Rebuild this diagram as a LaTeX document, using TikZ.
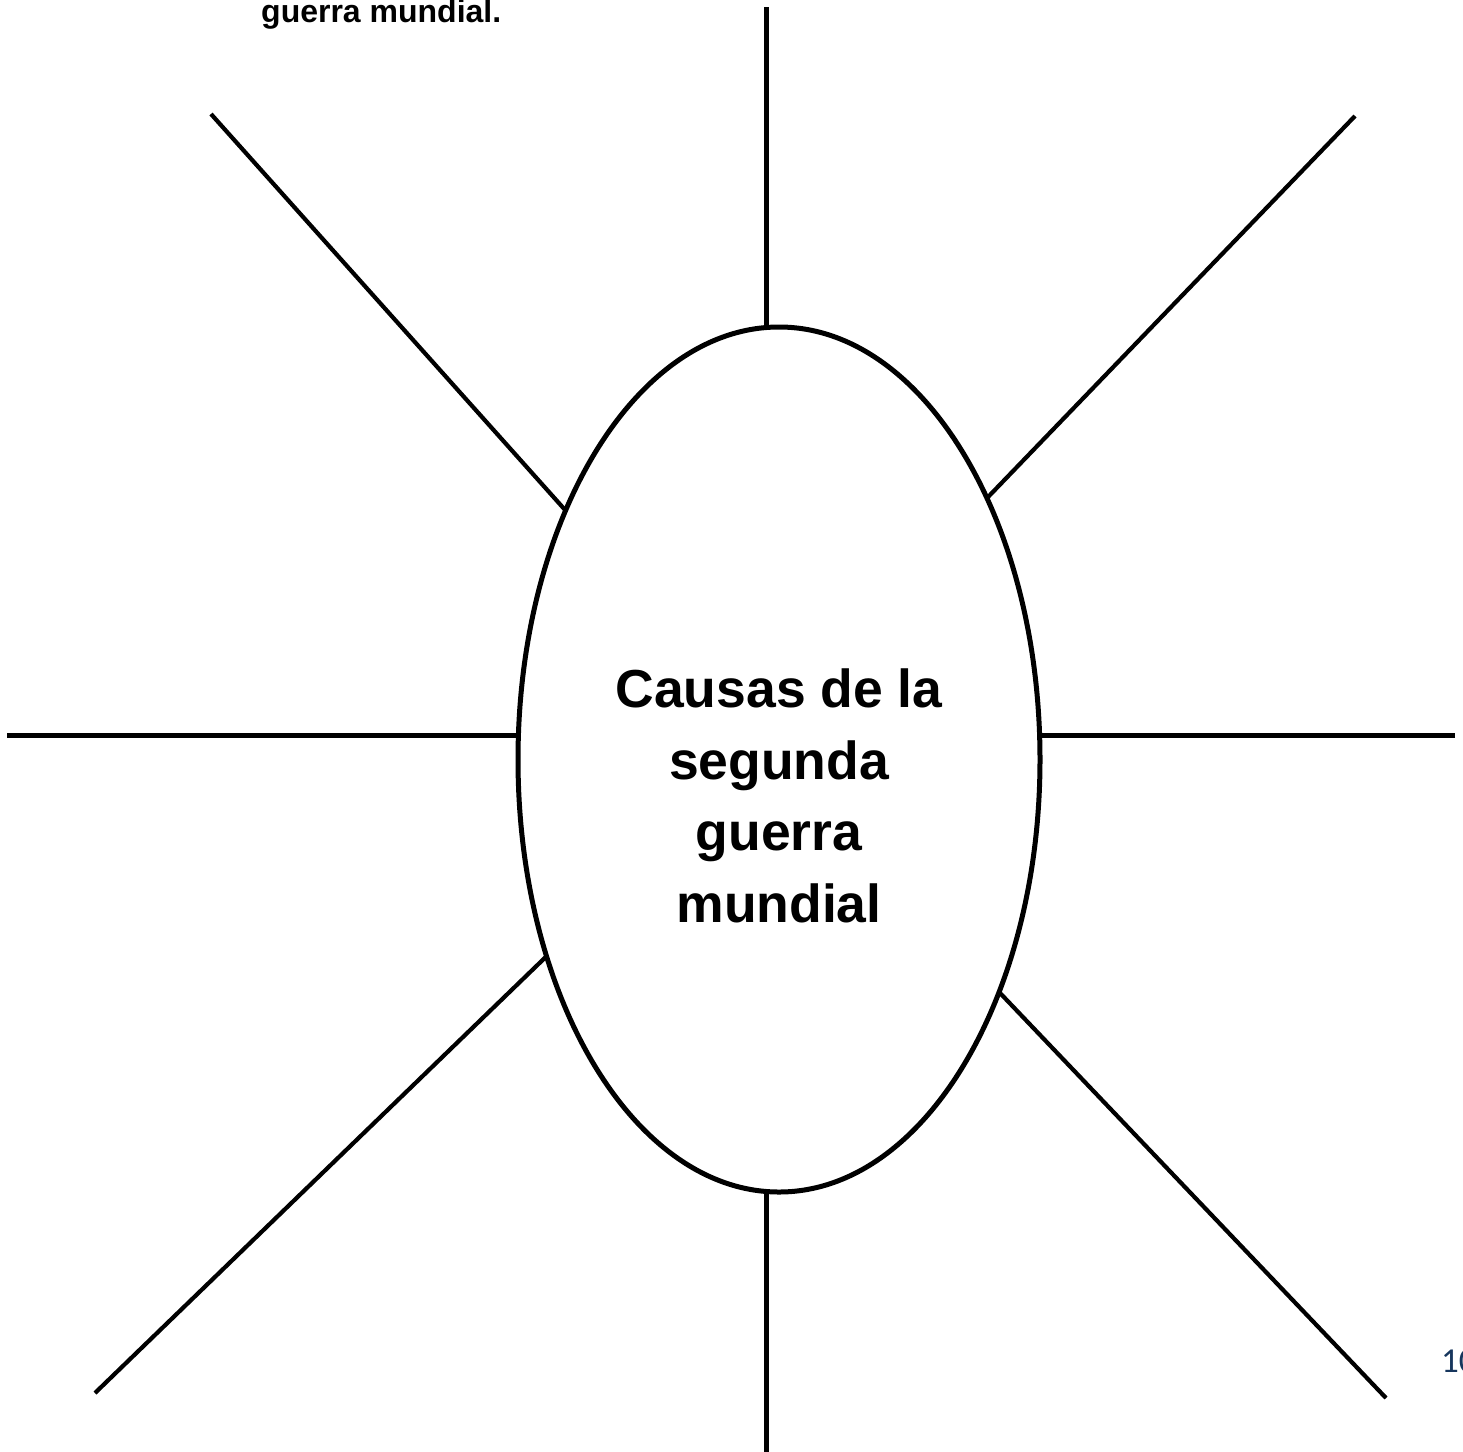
\documentclass[tikz,border=0pt]{standalone}
\usepackage{fontspec}
\setmainfont{Liberation Sans}
\newfontfamily\calibrifont{Carlito}
\usetikzlibrary{shapes.geometric}
\definecolor{pagenum}{RGB}{23,54,93}
\begin{document}
\begin{tikzpicture}[x=1pt,y=-1pt,
  ray/.style={line width=4.2pt},
  oval/.style={ellipse,draw,line width=5pt,fill=white,minimum width=522pt,minimum height=865pt,inner sep=0pt}]
\clip (0,0) rectangle (1463,1451);
\useasboundingbox (0,0) rectangle (1463,1451);
% outer and inner ends of the rays
\coordinate (nT) at (766.5,7);   \coordinate (iT) at (766.5,400);
\coordinate (nB) at (766.5,1460); \coordinate (iB) at (766.5,1100);
\coordinate (nL) at (7,735.5);   \coordinate (iL) at (600,735.5);
\coordinate (nR) at (1455,735.5); \coordinate (iR) at (960,735.5);
\coordinate (nUL) at (211,114);  \coordinate (iUL) at (600,549);
\coordinate (nUR) at (1355,116); \coordinate (iUR) at (950,536.5);
\coordinate (nLL) at (95,1393);  \coordinate (iLL) at (585,919);
\coordinate (nLR) at (1386,1398); \coordinate (iLR) at (960,951);
\foreach \a in {T,B,L,R,UL,UR,LL,LR}{\draw[ray] (n\a) -- (i\a);}
\node[oval] (center) at (779,759.5) {};
\node[align=center,inner sep=0pt,font=\bfseries\fontsize{53.5}{71.5}\selectfont] (title) at (779,796)
  {Causas de la\\segunda\\guerra\\mundial};
\node[anchor=base west,inner sep=0pt,font=\bfseries\fontsize{32}{36}\selectfont] (toptext) at (261,22.5) {guerra mundial.};
\node[anchor=base west,inner sep=0pt,text=pagenum,font=\calibrifont\fontsize{35}{40}\selectfont] (pnum) at (1441,1372) {10};
\end{tikzpicture}
\end{document}
